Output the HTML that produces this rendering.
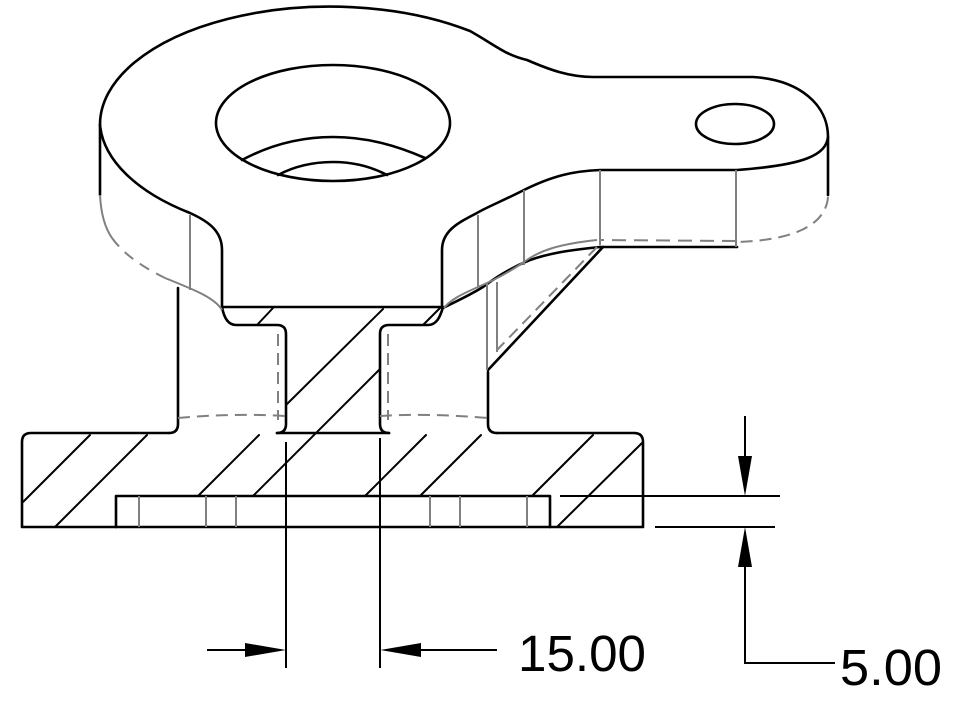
<!DOCTYPE html>
<html><head><meta charset="utf-8"><style>
html,body{margin:0;padding:0;background:#fff}
svg{display:block}
text{font-family:"Liberation Sans",sans-serif;fill:#000}
</style></head><body>
<svg width="960" height="707" viewBox="0 0 960 707" xmlns="http://www.w3.org/2000/svg">
<g fill="none" stroke="#000" stroke-width="2.6" stroke-linecap="round" stroke-linejoin="round">
<path d="M100,125 A230,118 0 0 1 470,31 C495,45 505,55 527,60 C550,70 570,77 593,77 L753,77 C800,80 828,105 828,137 L828,195"/>
<path d="M828,137 C826,155 805,165 737,170 L600,170 C575,171 553,175 520,192 C500,202 485,208 477,213 C460,222 442,230 442,250 L442,308"/>
<path d="M100,125 A230,118 0 0 0 190,213 C210,222 222,232 222,250 L222,307 L443,307"/>
<path d="M100,125 L100,195"/>
<ellipse cx="333" cy="123" rx="117" ry="58"/>
<path d="M242,160 C270,145 300,137 333,137 C366,137 395,145 425,158"/>
<path d="M278,175 C295,166 313,162 333,162 C353,162 370,166 387,175"/>
<ellipse cx="735" cy="124" rx="39" ry="20"/>
<path d="M178,288 L178,424 Q178,433 169,433"/>
<path d="M222,307 C224,318 228,325 236,325 L277,325 Q286,325 286,334 L286,424 Q286,433 277,433"/>
<path d="M443,307 C440,318 436,325 428,325 L389,325 Q380,325 380,334 L380,424 Q380,433 389,433"/>
<path d="M488,372 L488,424 Q488,433 497,433"/>
<path d="M603,247 L488,370"/>
<path d="M600,247 L737,247"/>
<path d="M600,247 C570,250 550,253 530,260 C510,268 495,278 483,287 C465,298 452,303 443,308"/>
<path d="M22,520 L22,442 Q22,433 31,433 L169,433 M277,433 L389,433 M497,433 L634,433 Q643,433 643,442 L643,527 L22,527 L22,520"/>
<path d="M116,527 L116,496 L550,496 L550,527"/>
<g stroke-width="2">
<line x1="23" y1="502" x2="90" y2="435"/>
<line x1="55" y1="527" x2="147" y2="435"/>
<line x1="198" y1="496" x2="259" y2="435"/>
<line x1="253" y1="496" x2="380" y2="369"/>
<line x1="286" y1="405" x2="383" y2="309"/>
<line x1="365" y1="496" x2="426" y2="435"/>
<line x1="420" y1="496" x2="481" y2="435"/>
<line x1="532" y1="496" x2="593" y2="435"/>
<line x1="557" y1="527" x2="642" y2="443"/>
<line x1="257" y1="325" x2="273" y2="308"/>
<line x1="423" y1="325" x2="440" y2="308"/>
</g>
</g>
<g fill="none" stroke="#808080" stroke-width="2">
<path d="M100,195 C101,215 105,228 112,238"/>
<path d="M112,238 C125,256 145,268 165,278" stroke-dasharray="11,8"/>
<path d="M165,278 C195,290 215,298 222,310"/>
<path d="M190,215 L190,290"/>
<path d="M478,215 L478,287 M524,190 L524,265 M600,170 L600,245 M736,170 L736,247"/>
<path d="M487,283 L487,370 M497,282 L497,352"/>
<path d="M828,197 C826,222 800,240 737,242" stroke-dasharray="12,7"/>
<path d="M736,241 L600,240" stroke-dasharray="14,8"/>
<path d="M597,240 C560,244 540,250 524,262 C505,275 490,282 478,287 C462,294 450,300 444,308"/>
<path d="M597,247 L497,350" stroke-dasharray="12,7"/>
<path d="M278,334 L278,420 M388,334 L388,420" stroke-dasharray="12,7"/>
<path d="M178,418 Q230,413 286,416 M380,416 Q430,413 488,418" stroke-dasharray="12,7"/>
<path d="M139,496 L139,527 M206,496 L206,527 M236,496 L236,527 M430,496 L430,527 M460,496 L460,527 M527,496 L527,527"/>
</g>
<g stroke="#000" stroke-width="2" fill="none">
<line x1="286" y1="442" x2="286" y2="668"/>
<line x1="380" y1="438" x2="380" y2="668"/>
<line x1="207" y1="650" x2="250" y2="650"/>
<line x1="420" y1="650" x2="497" y2="650"/>
<line x1="560" y1="496" x2="780" y2="496"/>
<line x1="655" y1="527" x2="775" y2="527"/>
<line x1="745" y1="416" x2="745" y2="456"/>
<path d="M745,566 L745,663 L835,663"/>
</g>
<g fill="#000">
<polygon points="286,650 245,643 245,657"/>
<polygon points="380,650 421,643 421,657"/>
<polygon points="745,496 738,456 752,456"/>
<polygon points="745,527 738,567 752,567"/>
</g>
<text x="518" y="671" font-size="51" textLength="128" lengthAdjust="spacingAndGlyphs">15.00</text>
<text x="840" y="685" font-size="51" textLength="102" lengthAdjust="spacingAndGlyphs">5.00</text>
</svg>
</body></html>
